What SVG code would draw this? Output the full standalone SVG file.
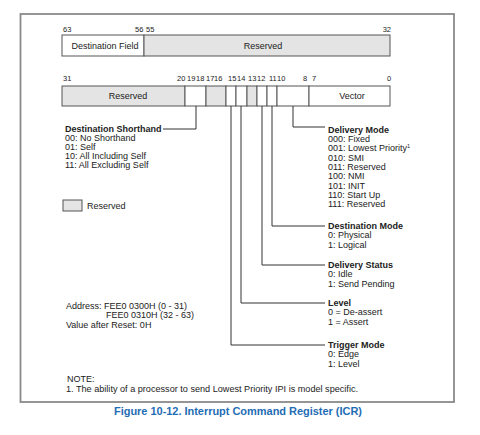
<svg xmlns="http://www.w3.org/2000/svg" width="480" height="435" viewBox="0 0 480 435">
<style>
text{font-family:"Liberation Sans",Arial,sans-serif;fill:#222}
.n{font-size:7.5px}
.f{font-size:9px}
.h{font-size:9px;font-weight:bold}
.b{font-size:9px}
.box{fill:#fff;stroke:#555;stroke-width:1}
.res{fill:#e4e4e4;stroke:#555;stroke-width:1}
.c{fill:none;stroke:#333;stroke-width:1}
.title{font-size:11px;font-weight:bold;fill:#1f6db4}
</style>
<rect width="480" height="435" fill="#fff"/>
<rect x="20.5" y="14" width="433.5" height="388" fill="none" stroke="#8a8a8a" stroke-width="1.8"/>

<g id="reg-high">
<text class="n" x="63" y="32">63</text>
<text class="n" x="135" y="32">56</text>
<text class="n" x="146" y="32">55</text>
<text class="n" x="391" y="32" text-anchor="end">32</text>
<rect class="box" x="62" y="35" width="82" height="21"/>
<rect class="res" x="144" y="35" width="246" height="21"/>
<text class="f" x="105" y="49" text-anchor="middle">Destination Field</text>
<text class="f" x="263" y="49" text-anchor="middle">Reserved</text>
</g>

<g id="reg-low">
<text class="n" x="63" y="81">31</text>
<text class="n" x="177" y="81">20</text>
<text class="n" x="187" y="81">19</text>
<text class="n" x="196" y="81">18</text>
<text class="n" x="206" y="81">17</text>
<text class="n" x="214" y="81">16</text>
<text class="n" x="228" y="81">15</text>
<text class="n" x="237" y="81">14</text>
<text class="n" x="248" y="81">13</text>
<text class="n" x="257" y="81">12</text>
<text class="n" x="269" y="81">11</text>
<text class="n" x="277" y="81">10</text>
<text class="n" x="303" y="81">8</text>
<text class="n" x="312" y="81">7</text>
<text class="n" x="387" y="81">0</text>
<rect class="res" x="62" y="86" width="123" height="20"/>
<rect class="box" x="185" y="86" width="21" height="20"/>
<rect class="res" x="206" y="86" width="20" height="20"/>
<rect class="box" x="226" y="86" width="10" height="20"/>
<rect class="box" x="236" y="86" width="11" height="20"/>
<rect class="res" x="247" y="86" width="10" height="20"/>
<rect class="box" x="257" y="86" width="10" height="20"/>
<rect class="box" x="267" y="86" width="10" height="20"/>
<rect class="box" x="277" y="86" width="32" height="20"/>
<rect class="box" x="309" y="86" width="81" height="20"/>
<text class="f" x="128" y="99" text-anchor="middle">Reserved</text>
<text class="f" x="352" y="99" text-anchor="middle">Vector</text>
</g>

<g id="connectors">
<polyline class="c" points="196,106 196,129 163,129"/>
<polyline class="c" points="231,106 231,345 325,345"/>
<polyline class="c" points="241,106 241,303 325,303"/>
<polyline class="c" points="262,106 262,265 325,265"/>
<polyline class="c" points="272,106 272,226 325,226"/>
<polyline class="c" points="293,106 293,127 325,127"/>
</g>

<g id="dest-shorthand">
<text class="h" x="65" y="132">Destination Shorthand</text>
<text class="b" x="65" y="141">00: No Shorthand</text>
<text class="b" x="65" y="150">01: Self</text>
<text class="b" x="65" y="159">10: All Including Self</text>
<text class="b" x="65" y="168">11: All Excluding Self</text>
</g>

<g id="legend">
<rect class="res" x="63" y="200" width="19" height="11"/>
<text class="b" x="87" y="209">Reserved</text>
</g>

<g id="delivery-mode">
<text class="h" x="328" y="133">Delivery Mode</text>
<text class="b" x="328" y="142">000: Fixed</text>
<text class="b" x="328" y="151.3">001: Lowest Priority<tspan font-size="5.5" dy="-3">1</tspan></text>
<text class="b" x="328" y="160.6">010: SMI</text>
<text class="b" x="328" y="169.9">011: Reserved</text>
<text class="b" x="328" y="179.2">100: NMI</text>
<text class="b" x="328" y="188.5">101: INIT</text>
<text class="b" x="328" y="197.8">110: Start Up</text>
<text class="b" x="328" y="207.1">111: Reserved</text>
</g>

<g id="dest-mode">
<text class="h" x="328" y="229">Destination Mode</text>
<text class="b" x="328" y="238.3">0: Physical</text>
<text class="b" x="328" y="247.6">1: Logical</text>
</g>

<g id="delivery-status">
<text class="h" x="328" y="268">Delivery Status</text>
<text class="b" x="328" y="277.3">0: Idle</text>
<text class="b" x="328" y="286.6">1: Send Pending</text>
</g>

<g id="level">
<text class="h" x="328" y="306">Level</text>
<text class="b" x="328" y="315.3">0 = De-assert</text>
<text class="b" x="328" y="324.6">1 = Assert</text>
</g>

<g id="trigger-mode">
<text class="h" x="328" y="348">Trigger Mode</text>
<text class="b" x="328" y="357.3">0: Edge</text>
<text class="b" x="328" y="366.6">1: Level</text>
</g>

<g id="address">
<text class="b" x="66" y="309">Address: FEE0 0300H (0 - 31)</text>
<text class="b" x="106" y="318.3">FEE0 0310H (32 - 63)</text>
<text class="b" x="66" y="327.6">Value after Reset: 0H</text>
</g>

<g id="note">
<text class="b" x="67" y="382">NOTE:</text>
<text class="b" x="66" y="392" textLength="292" lengthAdjust="spacingAndGlyphs">1. The ability of a processor to send Lowest Priority IPI is model specific.</text>
</g>

<text class="title" x="238" y="415" text-anchor="middle" textLength="248" lengthAdjust="spacing" font-size="10.5">Figure 10-12.  Interrupt Command Register (ICR)</text>
</svg>
